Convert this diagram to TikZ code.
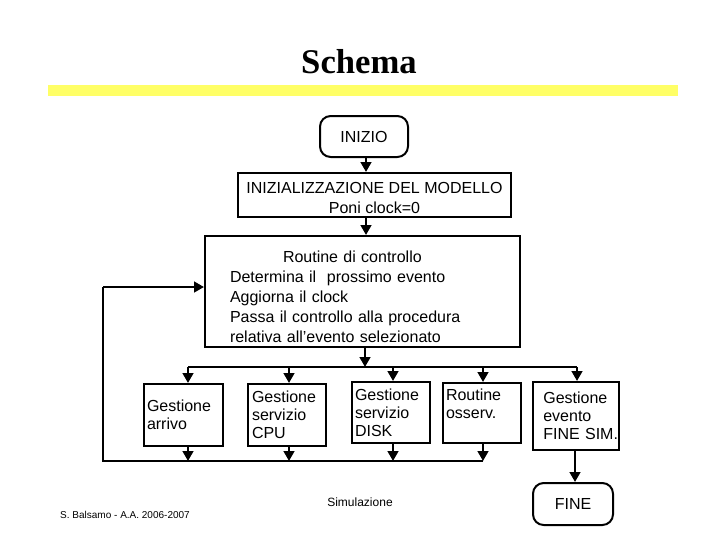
\documentclass[tikz,border=0pt]{standalone}
\usepackage{fontspec}
\setmainfont{Liberation Sans}
\newfontfamily\titlefont{Liberation Serif}
\usetikzlibrary{arrows.meta}
\definecolor{baryellow}{HTML}{FFFF66}
\begin{document}
\begin{tikzpicture}[x=0.75pt,y=-0.75pt,
  box/.style={draw,line width=1.5pt,inner sep=0pt,font=\fontsize{12}{13.5}\selectfont},
  termbox/.style={box,rounded corners=8pt},
  conn/.style={line width=1.8pt},
  arr/.style={conn,-{Triangle[width=8pt,length=7.5pt]}},
  ]
\useasboundingbox (0,0) rectangle (720,540);
% title
\node[anchor=base,font=\titlefont\bfseries\fontsize{26}{28}\selectfont,inner sep=0pt] (title) at (359,73) {Schema};
\fill[baryellow] (48,85) rectangle (678,96);
% nodes
\node[termbox,minimum width=88*0.75pt,minimum height=41*0.75pt] (inizio) at (364,136.5) {INIZIO};
\node[box,minimum width=273*0.75pt,minimum height=44*0.75pt,align=center,font=\fontsize{12}{15}\selectfont] (init) at (374.5,195) {\rule{0pt}{13pt}INIZIALIZZAZIONE DEL MODELLO\\Poni clock=0};
\node[box,minimum width=315*0.75pt,minimum height=111*0.75pt,text width=265*0.75pt,align=left,font=\fontsize{12}{15}\selectfont] (routine) at (362.5,291.5)
 {\rule{0pt}{16.5pt}\hspace*{39.75pt}Routine di controllo\\Determina il\ \ prossimo evento\\Aggiorna il clock\\Passa il controllo alla procedura\\relativa all'evento selezionato};
\node[box,minimum width=79*0.75pt,minimum height=62*0.75pt,text width=73*0.75pt,align=left] (arrivo) at (183.5,415) {Gestione\\arrivo};
\node[box,minimum width=78*0.75pt,minimum height=62*0.75pt,text width=70*0.75pt,align=left] (cpu) at (287,415) {Gestione\\servizio\\CPU};
\node[box,minimum width=78*0.75pt,minimum height=61*0.75pt,text width=72*0.75pt,align=left] (disk) at (391,412.5) {Gestione\\servizio\\DISK};
\node[box,minimum width=78*0.75pt,minimum height=60*0.75pt,text width=72*0.75pt,align=left] (osserv) at (482,413) {Routine\\osserv.\\~};
\node[box,minimum width=86*0.75pt,minimum height=68*0.75pt,text width=76*0.75pt,align=left] (finesim) at (576,416) {\hspace*{4pt}Gestione\\\hspace*{4pt}evento\\\hspace*{4pt}FINE~SIM.};
\node[termbox,minimum width=80*0.75pt,minimum height=42*0.75pt] (fine) at (573,504) {FINE};
% footer texts
\node[anchor=base,inner sep=0pt,font=\fontsize{9}{10}\selectfont] (sim) at (360,506) {Simulazione};
\node[anchor=base,inner sep=0pt,font=\fontsize{7.5}{9}\selectfont] (author) at (125,518) {S. Balsamo - A.A. 2006-2007};
% bus coordinates
\coordinate (busL) at (188,367);
\coordinate (busR) at (577,367);
\coordinate (busC) at (365,367);
\coordinate (botL) at (103,461);
\coordinate (botR) at (483,461);
\coordinate (loopT) at (103,287);
% connectors
\draw[arr] (inizio.south -| 366,0) -- (init.north -| 366,0);
\draw[arr] (init.south -| 366,0) -- (routine.north -| 366,0);
\draw[arr] (routine.south -| busC) -- (busC);
\draw[conn] (busL) -- (busR);
\draw[arr] (busL) -- (arrivo.north -| busL);
\draw[arr] (busL -| 289,0) -- (cpu.north -| 289,0);
\draw[arr] (busL -| 393,0) -- (disk.north -| 393,0);
\draw[arr] (busL -| 483,0) -- (osserv.north -| 483,0);
\draw[arr] (busR) -- (finesim.north -| busR);
\draw[arr] (arrivo.south -| busL) -- (botL -| busL);
\draw[arr] (cpu.south -| 289,0) -- (botL -| 289,0);
\draw[arr] (disk.south -| 393,0) -- (botL -| 393,0);
\draw[arr] (osserv.south -| botR) -- (botR);
\draw[conn] (botR) -- (botL) -- (loopT);
\draw[arr] (loopT) -- (routine.west |- loopT);
\draw[arr] (finesim.south -| 575,0) -- (fine.north -| 575,0);
\end{tikzpicture}
\end{document}
